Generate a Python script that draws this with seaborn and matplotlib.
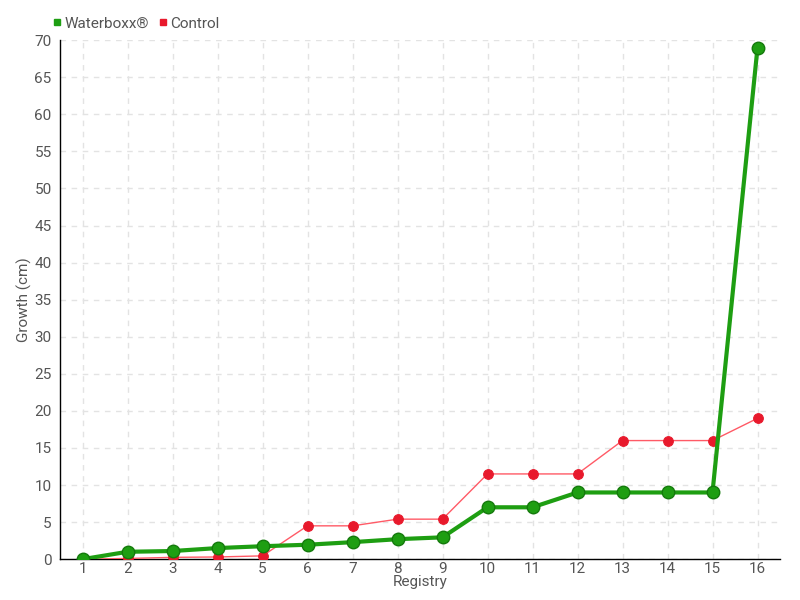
import pandas as pd
import matplotlib.pyplot as plt
from matplotlib.lines import Line2D
import seaborn as sns

registry = list(range(1, 17))
waterboxx = [0, 1.0, 1.1, 1.5, 1.75, 1.95, 2.3, 2.7, 2.95, 7, 7, 9, 9, 9, 9, 69]
control = [0, 0.1, 0.25, 0.3, 0.45, 4.5, 4.5, 5.4, 5.4, 11.5, 11.5, 11.5, 16, 16, 16, 19]

df = pd.DataFrame({"Registry": registry, "Waterboxx": waterboxx, "Control": control})

sns.set_theme(style="white")
plt.rcParams['font.family'] = ['Roboto', 'DejaVu Sans']

text_color = "#555555"
green = "#1e9e12"
red = "#e8192c"

fig = plt.figure(figsize=(8, 6), dpi=100)
ax = fig.add_axes([0.075, 0.068, 0.9, 0.865])

sns.lineplot(data=df, x="Registry", y="Control", ax=ax, color="#ff5a66", linewidth=1,
             marker="o", markersize=7, markerfacecolor=red, markeredgecolor=red, zorder=3)
sns.lineplot(data=df, x="Registry", y="Waterboxx", ax=ax, color=green, linewidth=3,
             marker="o", markersize=9, markerfacecolor=green, markeredgecolor="#147a0c",
             markeredgewidth=1, zorder=4)

ax.set_xlim(0.5, 16.5)
ax.set_ylim(0, 70)
ax.set_xticks(registry)
ax.set_yticks(range(0, 71, 5))
ax.grid(True, linestyle=(0, (4, 4)), color="#e3e3e3", linewidth=1)
ax.set_axisbelow(True)

for s in ["top", "right"]:
    ax.spines[s].set_visible(False)
for s in ["left", "bottom"]:
    ax.spines[s].set_color("black")
    ax.spines[s].set_linewidth(1)

ax.tick_params(axis="both", labelsize=11, labelcolor=text_color, color="black",
               length=4, width=1, pad=2)
ax.tick_params(axis="x", direction="in")
ax.set_xlabel("Registry", fontsize=11, color=text_color, labelpad=-1)
ax.set_ylabel("Growth (cm)", fontsize=11, color=text_color, labelpad=2)

handles = [
    Line2D([], [], marker="s", linestyle="none", color=green, markersize=5),
    Line2D([], [], marker="s", linestyle="none", color=red, markersize=5),
]
leg = fig.legend(handles, ["Waterboxx®", "Control"], loc="upper left",
                 bbox_to_anchor=(0.052, 0.99), ncol=2, frameon=False,
                 handlelength=0.6, handletextpad=0.2, columnspacing=0.6,
                 fontsize=11, borderaxespad=0.3)
for t in leg.get_texts():
    t.set_color(text_color)

fig.savefig("out.png", dpi=100)
